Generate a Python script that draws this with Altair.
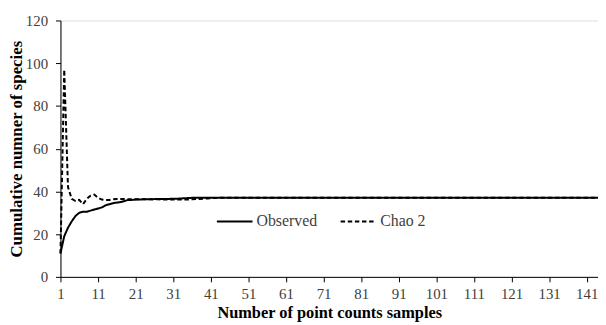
import altair as alt
import pandas as pd

samples = list(range(1, 145))
observed = [11, 19, 23, 26, 28.5, 30, 30.5, 30.5, 31, 31.5,
            32, 32.5, 33.5, 34, 34.5, 34.8, 35, 35.5, 36, 36,
            36.2, 36.2, 36.3, 36.3, 36.3, 36.4, 36.4, 36.5, 36.5, 36.5,
            36.6, 36.6, 36.7, 36.8, 36.9] + [37] * 109
chao2 = [11, 97, 42, 36.5, 35.5, 36, 34, 36.5, 38, 38.5,
         37, 36.2, 36, 36, 36.3, 36.5, 36.5, 36.5, 36.3, 36.3,
         36.3, 36.3, 36.3, 36.3, 36.3, 36.3, 36.3, 36.2, 36.2, 36.2,
         36.2, 36.2, 36.2, 36.2, 36.2, 36.3, 36.4, 36.5, 36.6, 36.7,
         36.8, 36.9, 37, 37] + [37] * 100
series_names = ["Observed", "Chao 2"]
x_ticks = [1, 11, 21, 31, 41, 51, 61, 71, 81, 91, 101, 111, 121, 131, 141]
y_ticks = [0, 20, 40, 60, 80, 100, 120]

rows = []
for s, o, c in zip(samples, observed, chao2):
    rows.append({"sample": s, "value": o, "series": "Observed"})
    rows.append({"sample": s, "value": c, "series": "Chao 2"})
df = pd.DataFrame(rows)

FONT = "Liberation Serif"

legend_opts = dict(title=None, orient="none", direction="horizontal",
                   legendX=157, legendY=184,
                   symbolType="stroke", symbolSize=1296,
                   symbolStrokeWidth=2, labelFont=FONT,
                   labelFontSize=16, labelColor="#404040",
                   columnPadding=19, labelOffset=3)

chart = alt.Chart(df).mark_line(strokeWidth=2).encode(
    x=alt.X("sample:Q",
            scale=alt.Scale(domain=[1, 144], nice=False, zero=False),
            axis=alt.Axis(values=x_ticks, title="Number of point counts samples",
                          grid=False, tickSize=5, labelPadding=5,
                          labelFontSize=15, titleFontSize=16.5, titleFontWeight="bold",
                          titlePadding=3, labelFont=FONT, titleFont=FONT,
                          labelColor="#404040", titleColor="black",
                          domainColor="black", tickColor="black", labelFlush=False)),
    y=alt.Y("value:Q",
            scale=alt.Scale(domain=[0, 120], nice=False),
            axis=alt.Axis(values=y_ticks, title="Cumulative numner of species",
                          grid=False, tickSize=5, labelPadding=8,
                          labelFontSize=15, titleFontSize=17, titleFontWeight="bold",
                          titlePadding=0, labelFont=FONT, titleFont=FONT,
                          labelColor="#404040", titleColor="black",
                          domainColor="black", tickColor="black")),
    color=alt.Color("series:N", sort=series_names,
                    scale=alt.Scale(domain=series_names, range=["black", "black"]),
                    legend=alt.Legend(**legend_opts)),
    strokeDash=alt.StrokeDash("series:N", sort=series_names,
                              scale=alt.Scale(domain=series_names, range=[[1, 0], [4.5, 2.7]]),
                              legend=alt.Legend(**legend_opts)),
).properties(
    width=543, height=259,
    autosize=alt.AutoSizeParams(type="none"),
    padding={"left": 53, "top": 11, "right": 0, "bottom": 47},
).configure_view(stroke=None).configure(
    background="white", font=FONT
).configure_legend(labelFont=FONT, labelFontSize=16, labelColor="#404040")

chart.save("out.html", embed_options={"renderer": "svg", "actions": False})
